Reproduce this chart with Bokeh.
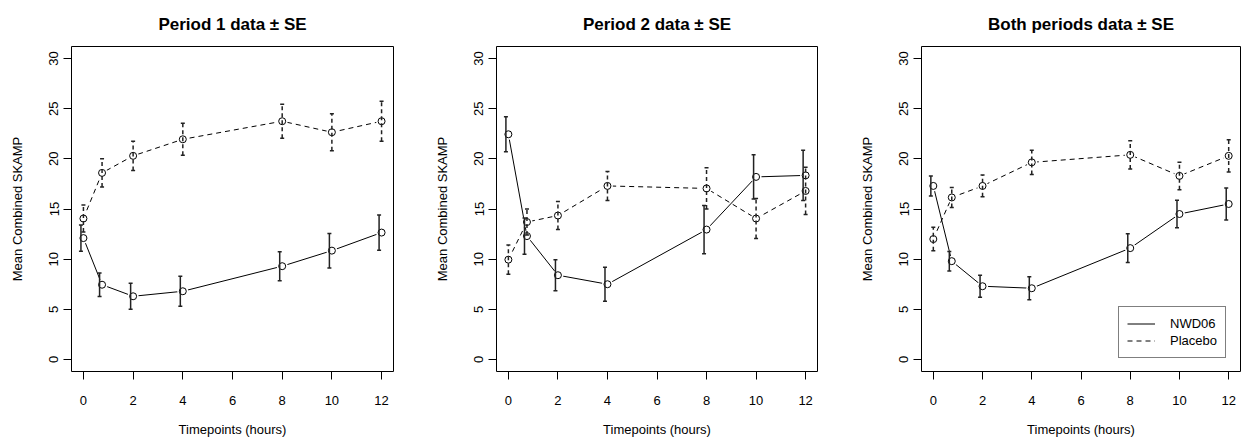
from bokeh.plotting import figure
from bokeh.models import Range1d, FixedTicker, Whisker, TeeHead, ColumnDataSource, Legend, LegendItem
from bokeh.layouts import row
from bokeh.embed import file_html
from bokeh.resources import INLINE

# ---- data ----
timepoints = [0, 0.75, 2, 4, 8, 10, 12]
x_ticks = [0, 2, 4, 6, 8, 10, 12]
y_ticks = [0, 5, 10, 15, 20, 25, 30]

titles = ["Period 1 data \u00b1 SE", "Period 2 data \u00b1 SE", "Both periods data \u00b1 SE"]

p1_nwd_mean = [12.1, 7.45, 6.3, 6.8, 9.3, 10.85, 12.65]
p1_nwd_se = [1.3, 1.18, 1.3, 1.5, 1.45, 1.72, 1.75]
p1_pla_mean = [14.05, 18.6, 20.3, 21.95, 23.75, 22.65, 23.75]
p1_pla_se = [1.35, 1.4, 1.45, 1.6, 1.7, 1.85, 2.0]

p2_nwd_mean = [22.45, 12.3, 8.4, 7.5, 12.95, 18.2, 18.35]
p2_nwd_se = [1.75, 1.8, 1.55, 1.7, 2.4, 2.2, 2.5]
p2_pla_mean = [9.95, 13.7, 14.35, 17.3, 17.05, 14.05, 16.8]
p2_pla_se = [1.45, 1.3, 1.4, 1.45, 2.05, 2.0, 2.35]

p3_nwd_mean = [17.3, 9.8, 7.3, 7.1, 11.1, 14.5, 15.5]
p3_nwd_se = [1.0, 0.97, 1.1, 1.15, 1.43, 1.37, 1.6]
p3_pla_mean = [12.0, 16.15, 17.3, 19.65, 20.4, 18.3, 20.3]
p3_pla_se = [1.17, 1.0, 1.08, 1.2, 1.4, 1.37, 1.6]

series_names = ["NWD06", "Placebo"]

FONT = "Liberation Sans"


def make_panel(title, nwd_m, nwd_s, pla_m, pla_s, frame_w, border_left, border_right, legend=False):
    p = figure(frame_width=frame_w, frame_height=325,
               x_range=Range1d(-0.48, 12.48), y_range=Range1d(-1.2, 31.2),
               output_backend="svg", toolbar_location=None,
               min_border_left=border_left, min_border_right=border_right,
               min_border_top=46, min_border_bottom=71,
               background_fill_color="white", border_fill_color="white")
    p.title.text = title
    p.title.align = "center"
    p.title.vertical_align = "top"
    p.title.text_font = FONT
    p.title.text_font_size = "17px"
    p.title.text_font_style = "bold"
    p.title.text_color = "black"
    p.title.standoff = 21
    p.outline_line_color = "black"
    p.outline_line_width = 1
    p.grid.visible = False

    p.xaxis.ticker = FixedTicker(ticks=x_ticks)
    p.yaxis.ticker = FixedTicker(ticks=y_ticks)
    for ax in (p.xaxis[0], p.yaxis[0]):
        ax.axis_line_color = None
        ax.major_tick_line_color = "black"
        ax.major_tick_out = 8
        ax.major_tick_in = 0
        ax.minor_tick_line_color = None
        ax.major_label_text_font = FONT
        ax.major_label_text_font_size = "13px"
        ax.major_label_text_color = "black"
        ax.axis_label_text_font = FONT
        ax.axis_label_text_font_size = "13px"
        ax.axis_label_text_font_style = "normal"
        ax.axis_label_text_color = "black"
    p.xaxis.axis_label = "Timepoints (hours)"
    p.yaxis.axis_label = "Mean Combined SKAMP"
    p.yaxis.major_label_orientation = "vertical"
    p.xaxis.major_label_standoff = 16
    p.xaxis.axis_label_standoff = 14
    p.yaxis.major_label_standoff = 5
    p.yaxis.axis_label_standoff = 22

    l_nwd = p.line(timepoints, nwd_m, line_color="black", line_width=1)
    l_pla = p.line(timepoints, pla_m, line_color="black", line_width=1, line_dash="5 4")

    # gaps around points (R type="b")
    p.scatter(timepoints, nwd_m, size=11, fill_color="white", line_color=None)
    p.scatter(timepoints, pla_m, size=11, fill_color="white", line_color=None)

    for means, ses, off, dash in ((nwd_m, nwd_s, -0.1, "solid"), (pla_m, pla_s, 0.0, "4 3")):
        src = ColumnDataSource(dict(
            x=[t + off for t in timepoints],
            upper=[m + s for m, s in zip(means, ses)],
            lower=[m - s for m, s in zip(means, ses)],
        ))
        w = Whisker(source=src, base="x", upper="upper", lower="lower", dimension="height",
                    line_color="#222222", line_width=1.5, line_dash=dash, level="overlay",
                    upper_head=TeeHead(size=4, line_width=1.5, line_color="#222222"),
                    lower_head=TeeHead(size=4, line_width=1.5, line_color="#222222"))
        p.add_layout(w)

    p.scatter(timepoints, nwd_m, marker="circle", size=7, fill_color=None, line_color="black", line_width=1)
    p.scatter(timepoints, pla_m, marker="circle", size=7, fill_color=None, line_color="black", line_width=1)

    if legend:
        lg = Legend(items=[LegendItem(label=series_names[0], renderers=[l_nwd]),
                           LegendItem(label=series_names[1], renderers=[l_pla])],
                    location=(197, 13))
        lg.label_text_font = FONT
        lg.label_text_font_size = "13px"
        lg.label_text_color = "black"
        lg.glyph_width = 28
        lg.glyph_height = 17
        lg.label_height = 17
        lg.label_standoff = 15
        lg.spacing = 0
        lg.padding = 8
        lg.margin = 0
        lg.border_line_color = "black"
        lg.border_line_width = 1
        lg.background_fill_color = "white"
        lg.background_fill_alpha = 1
        p.add_layout(lg)
    return p


f1 = make_panel(titles[0], p1_nwd_mean, p1_nwd_se, p1_pla_mean, p1_pla_se, 322, 71, 33)
f2 = make_panel(titles[1], p2_nwd_mean, p2_nwd_se, p2_pla_mean, p2_pla_se, 321, 70, 34)
f3 = make_panel(titles[2], p3_nwd_mean, p3_nwd_se, p3_pla_mean, p3_pla_se, 319, 70, 1, legend=True)

layout = row(f1, f2, f3)
open("out.html", "w").write(file_html(layout, INLINE))
